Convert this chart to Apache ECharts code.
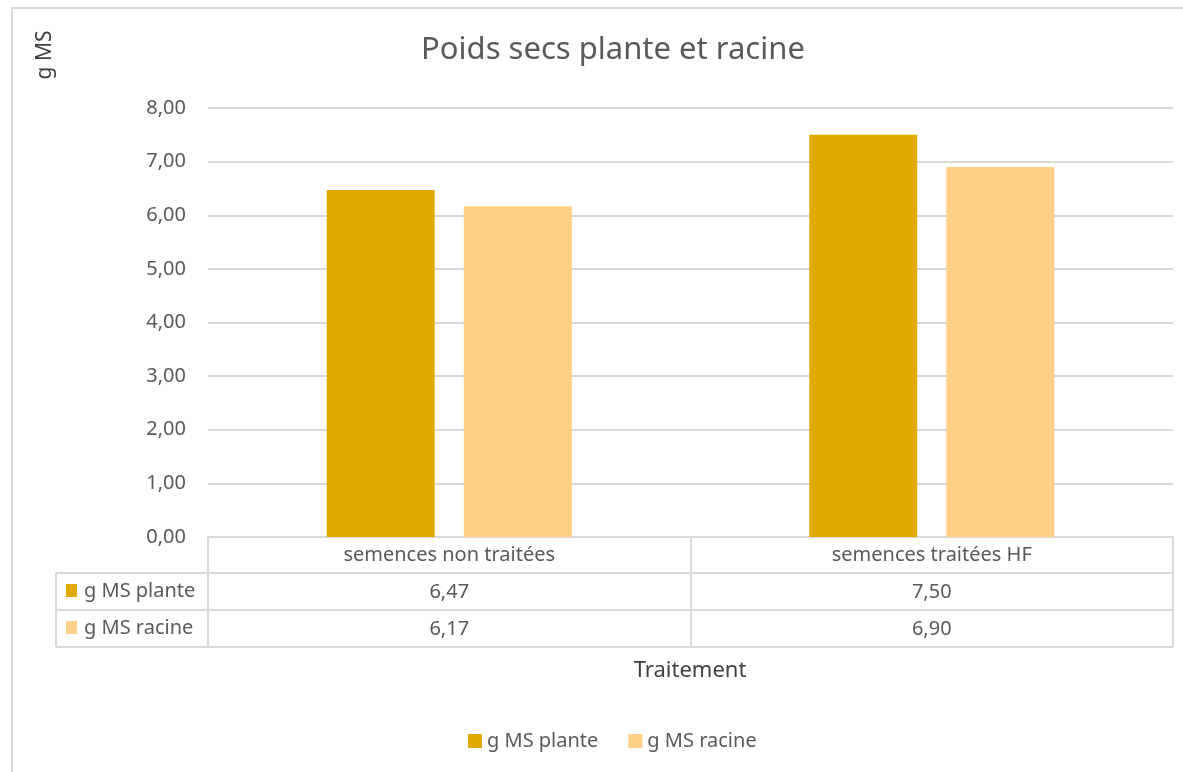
<!DOCTYPE html>
<html>
<head>
<meta charset="utf-8">
<script src="https://cdn.jsdelivr.net/npm/echarts@6/dist/echarts.min.js"></script>
<style>
html,body{margin:0;padding:0;background:#fff;}
#chart{width:1183px;height:772px;}
</style>
</head>
<body>
<div id="chart"></div>
<script>
const categories = ['semences non traitées', 'semences traitées HF'];
const seriesNames = ['g MS plante', 'g MS racine'];
const plante = [6.47, 7.50];
const racine = [6.17, 6.90];
const colors = ['#E1AA00', '#FFD085'];
const titleText = 'Poids secs plante et racine';
const yName = 'g MS';
const xName = 'Traitement';

const FONT = 'Noto Sans';
const FS = 20;
const fmt = v => v.toFixed(2).replace('.', ',');
const grid = {left: 208, right: 10, top: 108, bottom: 235};
const lineCol = '#d9d9d9';
const txt = '#595959';

const chart = echarts.init(document.getElementById('chart'));
const rowVals = [plante, racine];

function tableAxis(values, offset) {
  return {
    type: 'category', data: categories, position: 'bottom', offset: offset,
    axisLine: {show: false}, axisTick: {show: false},
    axisLabel: {
      formatter: (v, i) => fmt(values[i]),
      color: txt, fontFamily: FONT, fontSize: FS, margin: 8
    }
  };
}

const graphics = [
  {type: 'rect', shape: {x: 12, y: 8, width: 1300, height: 900}, style: {fill: 'none', stroke: lineCol, lineWidth: 2}, silent: true},
  {type: 'line', shape: {x1: 56, y1: 573, x2: 1173, y2: 573}, style: {stroke: lineCol, lineWidth: 2}},
  {type: 'line', shape: {x1: 56, y1: 610, x2: 1173, y2: 610}, style: {stroke: lineCol, lineWidth: 2}},
  {type: 'line', shape: {x1: 56, y1: 647, x2: 1173, y2: 647}, style: {stroke: lineCol, lineWidth: 2}},
  {type: 'line', shape: {x1: 56, y1: 573, x2: 56, y2: 647}, style: {stroke: lineCol, lineWidth: 2}},
  {type: 'text', x: 45, y: 55, rotation: Math.PI / 2, style: {text: yName, font: '21px "Noto Sans"', fill: '#404040', align: 'center', verticalAlign: 'middle'}},
  {type: 'text', x: 690, y: 671, style: {text: xName, font: '22px "Noto Sans"', fill: '#404040', align: 'center', verticalAlign: 'middle'}}
];
seriesNames.forEach((n, k) => {
  const cy = 591 + k * 37;
  graphics.push({type: 'rect', shape: {x: 66, y: cy - 7, width: 11, height: 13}, style: {fill: colors[k]}});
  graphics.push({type: 'text', x: 84, y: cy, style: {text: n, font: FS + 'px "Noto Sans"', fill: txt, align: 'left', verticalAlign: 'middle'}});
});

chart.setOption({
  animation: false,
  backgroundColor: '#fff',
  title: {
    text: titleText, left: 608, top: 30, textAlign: 'center',
    textStyle: {color: txt, fontFamily: FONT, fontSize: 31, fontWeight: 'normal'}
  },
  legend: {
    data: seriesNames, bottom: 16, left: 463, itemWidth: 14, itemHeight: 14, itemGap: 30,
    icon: 'rect',
    textStyle: {color: txt, fontFamily: FONT, fontSize: FS}
  },
  grid: grid,
  xAxis: [
    {
      type: 'category', data: categories,
      axisLine: {show: true, lineStyle: {color: lineCol, width: 2}},
      axisTick: {show: true, length: 110, alignWithLabel: false, lineStyle: {color: lineCol, width: 2}},
      axisLabel: {color: txt, fontFamily: FONT, fontSize: FS, margin: 8}
    },
    tableAxis(plante, 37),
    tableAxis(racine, 74)
  ],
  yAxis: {
    type: 'value', min: 0, max: 8, interval: 1,
    axisLine: {show: false}, axisTick: {show: false},
    splitLine: {lineStyle: {color: lineCol, width: 2}},
    axisLabel: {formatter: v => fmt(v), color: txt, fontFamily: FONT, fontSize: FS, margin: 22}
  },
  series: seriesNames.map((n, k) => ({
    name: n, type: 'bar', data: rowVals[k], xAxisIndex: 0,
    barWidth: 108, barGap: '27%',
    itemStyle: {color: colors[k]}
  })),
  graphic: graphics
});
</script>
</body>
</html>
